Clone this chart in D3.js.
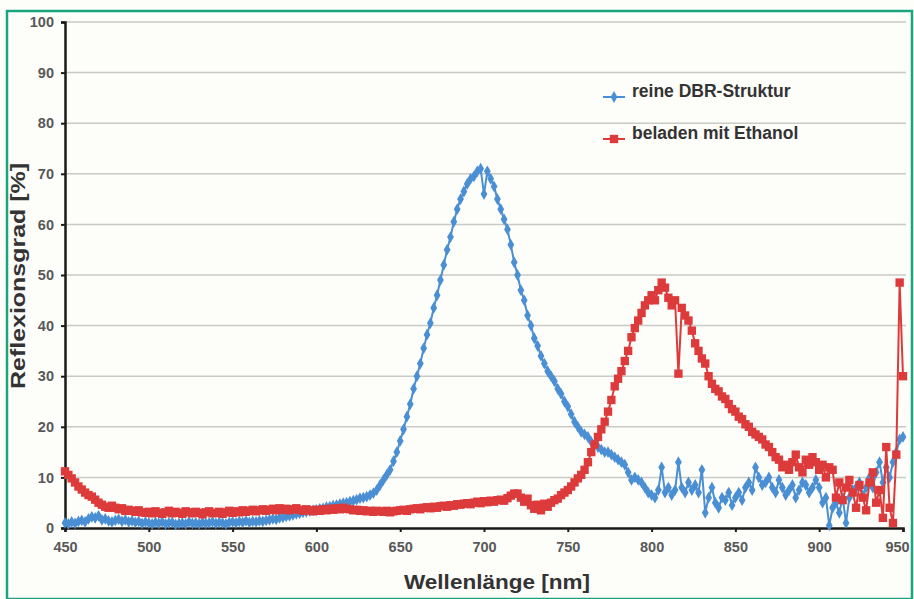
<!DOCTYPE html>
<html>
<head>
<meta charset="utf-8">
<script src="https://cdn.jsdelivr.net/npm/d3@7"></script>
<style>
  body { margin: 0; background: #fff; }
  text { font-family: "Liberation Sans", Arial, sans-serif; }
</style>
</head>
<body>
<div id="chart-area"></div>
<script>
// wavelength grid (nm), one sample every 2 nm
const wavelengths = d3.range(450, 951, 2);

// reine DBR-Struktur, Reflexionsgrad [%]  (one row = 10 nm)
const dbrValues = [
  1.0, 0.8, 1.2, 0.9, 1.3,      // 450
  1.5, 1.2, 1.8, 2.2, 2.0,      // 460
  2.4, 1.6, 1.8, 1.4, 1.2,      // 470
  1.5, 1.7, 1.3, 1.6, 1.2,      // 480
  1.4, 1.1, 1.3, 0.9, 1.2,      // 490
  1.0, 0.8, 1.1, 0.9, 1.2,      // 500
  0.8, 1.0, 1.1, 0.7, 0.9,      // 510
  1.0, 0.8, 1.2, 0.9, 1.0,      // 520
  0.8, 1.1, 0.9, 1.0, 1.2,      // 530
  0.9, 1.1, 1.0, 0.8, 1.1,      // 540
  1.2, 1.0, 1.3, 1.1, 1.4,      // 550
  1.1, 1.3, 1.2, 1.4, 1.3,      // 560
  1.5, 1.6, 1.8, 1.7, 2.0,      // 570
  2.1, 2.3, 2.4, 2.6, 2.8,      // 580
  2.9, 3.1, 3.2, 3.4, 3.5,      // 590
  3.6, 3.8, 3.9, 4.1, 4.2,      // 600
  4.4, 4.5, 4.7, 4.9, 5.0,      // 610
  5.2, 5.4, 5.6, 5.9, 6.0,      // 620
  6.2, 6.5, 6.9, 7.5, 8.5,      // 630
  9.5, 10.5, 11.5, 13.2, 15.0,  // 640
  17.2, 19.5, 22.0, 24.5, 27.5, // 650
  30.0, 32.5, 35.5, 38.2, 40.5, // 660
  43.5, 46.0, 49.0, 52.0, 55.0, // 670
  57.5, 60.5, 63.0, 65.0, 66.5, // 680
  68.0, 69.0, 69.5, 70.5, 71.0, // 690
  66.0, 70.5, 69.0, 67.5, 65.0, // 700
  63.0, 61.0, 59.0, 56.0, 52.5, // 710
  50.0, 47.0, 45.0, 42.0, 40.0, // 720
  37.5, 36.0, 34.0, 32.5, 31.0, // 730
  30.0, 29.0, 27.5, 26.5, 25.0, // 740
  24.0, 22.5, 21.0, 20.0, 19.0, // 750
  18.5, 18.0, 17.0, 16.5, 16.0, // 760
  15.5, 15.0, 15.0, 14.5, 14.0, // 770
  13.5, 13.0, 12.5, 11.0, 9.5,  // 780
  10.0, 9.5, 9.0, 8.0, 7.0,     // 790
  6.5, 6.0, 7.5, 12.0, 7.0,     // 800
  8.0, 6.5, 7.5, 13.0, 8.0,     // 810
  7.0, 9.0, 7.5, 8.5, 7.0,      // 820
  11.5, 3.0, 6.0, 8.0, 5.0,     // 830
  4.0, 6.0, 5.5, 7.0, 4.5,      // 840
  6.0, 7.0, 5.5, 8.0, 9.0,      // 850
  7.5, 12.0, 10.0, 8.5, 9.0,    // 860
  10.0, 8.0, 7.0, 9.5, 8.0,     // 870
  6.5, 7.5, 8.5, 6.0, 7.5,      // 880
  9.0, 8.5, 7.0, 8.0, 9.5,      // 890
  8.0, 5.0, 6.0, 0.5, 4.0,      // 900
  5.0, 3.0, 6.0, 1.0, 6.0,      // 910
  7.5, 8.0, 9.0, 6.5, 8.0,      // 920
  10.0, 8.0, 11.0, 13.0, 9.0,   // 930
  12.0, 10.0, 13.0, 15.0, 17.5, // 940
  18.0                          // 950
];

// beladen mit Ethanol, Reflexionsgrad [%]  (one row = 10 nm)
const ethanolValues = [
  11.2, 10.5, 9.8, 9.0, 8.2,    // 450
  7.6, 7.0, 6.5, 6.2, 5.6,      // 460
  5.0, 4.6, 4.2, 4.0, 4.4,      // 470
  4.0, 3.7, 3.9, 3.4, 3.6,      // 480
  3.4, 3.2, 3.5, 3.1, 3.0,      // 490
  3.2, 2.9, 3.3, 3.0, 2.8,      // 500
  3.1, 3.4, 2.9, 3.2, 3.0,      // 510
  2.8, 3.3, 3.1, 2.9, 3.2,      // 520
  3.0, 2.7, 3.1, 3.3, 2.9,      // 530
  3.0, 3.2, 2.8, 3.1, 3.4,      // 540
  3.0, 3.3, 3.1, 3.5, 3.2,      // 550
  3.4, 3.6, 3.3, 3.5, 3.7,      // 560
  3.4, 3.6, 3.8, 3.5, 3.9,      // 570
  3.6, 3.8, 3.5, 3.7, 3.9,      // 580
  3.6, 3.4, 3.7, 3.5, 3.3,      // 590
  3.6, 3.4, 3.7, 3.5, 3.8,      // 600
  3.6, 3.9, 3.7, 4.0, 3.8,      // 610
  3.7, 3.5, 3.6, 3.4, 3.5,      // 620
  3.3, 3.4, 3.2, 3.4, 3.3,      // 630
  3.2, 3.4, 3.1, 3.3, 3.4,      // 640
  3.5, 3.6, 3.4, 3.7, 3.8,      // 650
  3.9, 3.7, 4.0, 4.1, 3.9,      // 660
  4.2, 4.0, 4.3, 4.4, 4.2,      // 670
  4.5, 4.4, 4.7, 4.6, 4.8,      // 680
  4.9, 4.7, 5.0, 5.2, 4.9,      // 690
  5.3, 5.1, 5.4, 5.2, 5.5,      // 700
  5.6, 5.4, 5.9, 6.4, 6.8,      // 710
  6.8, 6.0, 5.2, 5.8, 4.5,      // 720
  3.8, 4.6, 3.5, 4.8, 4.2,      // 730
  5.0, 5.5, 5.8, 6.5, 7.0,      // 740
  7.5, 8.2, 9.0, 9.8, 10.5,     // 750
  11.5, 13.0, 15.0, 16.5, 18.0, // 760
  19.5, 21.0, 23.0, 25.3, 28.0, // 770
  29.5, 31.0, 33.0, 35.0, 37.7, // 780
  39.5, 41.0, 42.5, 44.0, 45.0, // 790
  46.0, 45.0, 47.0, 48.5, 47.5, // 800
  45.5, 44.0, 45.0, 30.5, 43.5, // 810
  42.0, 41.0, 39.0, 36.5, 35.0, // 820
  33.5, 32.5, 30.0, 28.5, 27.5, // 830
  27.0, 26.0, 25.5, 24.5, 23.5, // 840
  23.0, 22.0, 21.5, 20.5, 20.0, // 850
  19.0, 18.5, 18.0, 17.5, 16.5, // 860
  16.0, 15.0, 14.0, 13.5, 12.0, // 870
  12.5, 11.5, 13.0, 14.5, 12.0, // 880
  11.0, 13.5, 12.5, 14.0, 13.0, // 890
  11.5, 12.5, 10.0, 12.0, 11.5, // 900
  6.0, 9.0, 5.5, 8.0, 9.5,      // 910
  7.0, 4.0, 8.5, 6.0, 3.5,      // 920
  9.0, 11.0, 5.0, 7.5, 2.0,     // 930
  16.0, 4.0, 1.0, 14.5, 48.5,   // 940
  30.0                          // 950
];

const xTicks = [450, 500, 550, 600, 650, 700, 750, 800, 850, 900, 950];
const yTicks = [0, 10, 20, 30, 40, 50, 60, 70, 80, 90, 100];

const series = [
  { name: "reine DBR-Struktur", values: dbrValues, color: "#4a8fd3", symbol: d3.symbolDiamond, size: 40 },
  { name: "beladen mit Ethanol", values: ethanolValues, color: "#dd3b3b", symbol: d3.symbolSquare, size: 70 }
];

// canvas
const W = 914, H = 599;
const margin = { top: 22, left: 65 };
const width = 838, height = 506;

const x = d3.scaleLinear().domain([450, 950]).range([0, width]);
const y = d3.scaleLinear().domain([0, 100]).range([height, 0]);

const svg = d3.select("#chart-area")
  .append("svg")
    .attr("width", W)
    .attr("height", H);

svg.append("rect")
  .attr("width", W).attr("height", H)
  .attr("fill", "#fdfdfa");

// green frame
svg.append("rect")
  .attr("x", 7).attr("y", 11)
  .attr("width", 905).attr("height", 588)
  .attr("fill", "none")
  .attr("stroke", "#1aa67d")
  .attr("stroke-width", 2.5);

const chart = svg.append("g")
  .attr("transform", "translate(" + margin.left + "," + margin.top + ")");

// grid
chart.append("g")
  .selectAll("line")
  .data(yTicks.slice(1))
  .join("line")
    .attr("x1", 0).attr("x2", width + 3)
    .attr("y1", d => y(d)).attr("y2", d => y(d))
    .attr("stroke", "#c9c9c6")
    .attr("stroke-width", 1.5);

// axes
const yAxis = d3.axisLeft(y).tickValues(yTicks).tickSize(4).tickPadding(7);
const xAxis = d3.axisBottom(x).tickValues(xTicks).tickSize(4).tickPadding(10);

const yg = chart.append("g").call(yAxis);
const xg = chart.append("g").attr("transform", "translate(0," + height + ")").call(xAxis);

[yg, xg].forEach(g => {
  g.select(".domain").attr("stroke", "#1a1a1a").attr("stroke-width", 2.5);
  g.selectAll(".tick line").attr("stroke", "#1a1a1a").attr("stroke-width", 2);
  g.selectAll(".tick text")
    .attr("fill", "#585858")
    .style("font-size", "14.5px")
    .style("font-weight", "bold");
});
// last x label sits against the frame, pull it in a little
xg.selectAll(".tick text").filter(d => d === 950).attr("dx", -6);

// lines and markers
const line = d3.line()
  .x((d, i) => x(wavelengths[i]))
  .y(d => y(d));

series.forEach(s => {
  const g = chart.append("g");
  g.append("path")
    .datum(s.values)
    .attr("fill", "none")
    .attr("stroke", s.color)
    .attr("stroke-width", 2)
    .attr("d", line);
  g.selectAll("path.mark")
    .data(s.values)
    .join("path")
      .attr("class", "mark")
      .attr("transform", (d, i) => "translate(" + x(wavelengths[i]) + "," + y(d) + ")")
      .attr("d", d3.symbol(s.symbol, s.size))
      .attr("fill", s.color);
});

// axis titles
svg.append("text")
  .attr("transform", "translate(25,276) rotate(-90)")
  .attr("text-anchor", "middle")
  .attr("fill", "#333")
  .attr("textLength", 226)
  .attr("lengthAdjust", "spacingAndGlyphs")
  .style("font-size", "21px")
  .style("font-weight", "bold")
  .text("Reflexionsgrad [%]");

svg.append("text")
  .attr("x", 497).attr("y", 589)
  .attr("text-anchor", "middle")
  .attr("fill", "#333")
  .attr("textLength", 186)
  .attr("lengthAdjust", "spacingAndGlyphs")
  .style("font-size", "20px")
  .style("font-weight", "bold")
  .text("Wellenlänge [nm]");

// legend
const legend = svg.append("g");
series.forEach((s, i) => {
  const ly = 97 + i * 42;
  legend.append("line")
    .attr("x1", 603).attr("x2", 625)
    .attr("y1", ly).attr("y2", ly)
    .attr("stroke", s.color).attr("stroke-width", 2);
  legend.append("path")
    .attr("transform", "translate(614," + ly + ")")
    .attr("d", d3.symbol(s.symbol, s.size))
    .attr("fill", s.color);
  legend.append("text")
    .attr("x", 632).attr("y", ly - 5)
    .attr("dominant-baseline", "middle")
    .attr("fill", "#333")
    .style("font-size", "17.5px")
    .style("font-weight", "bold")
    .text(s.name);
});
</script>
</body>
</html>
